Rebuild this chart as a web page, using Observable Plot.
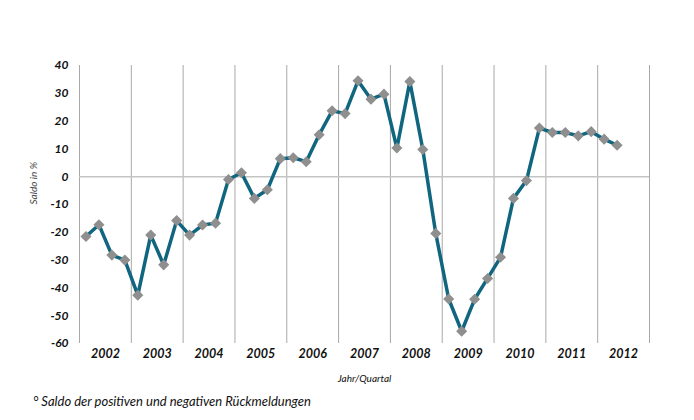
<!DOCTYPE html>
<html>
<head>
<meta charset="utf-8">
<script src="https://cdn.jsdelivr.net/npm/d3@7"></script>
<script src="https://cdn.jsdelivr.net/npm/@observablehq/plot@0.6"></script>
<style>
  body { margin: 0; background: #fff; font-family: Lato, "Open Sans", sans-serif; }
  #chart { position: relative; width: 694px; height: 420px; }
  #note { position: absolute; left: 33px; top: 393px; font-style: italic; font-size: 13px; color: #111; white-space: nowrap; }
</style>
</head>
<body>
<div id="chart"><div id="note">° Saldo der positiven und negativen Rückmeldungen</div></div>
<script>
const years = ["2002","2003","2004","2005","2006","2007","2008","2009","2010","2011","2012"];
const quartersPerYear = 4;
const saldo = [-21.5,-17.3,-28.2,-30,-42.6,-21,-31.7,-15.8,-21,-17.4,-16.7,-1,1.4,-7.8,-4.7,6.5,6.8,5.4,15.1,23.7,22.7,34.5,27.9,29.7,10.3,34.2,9.8,-20.4,-44,-55.6,-44.1,-36.6,-29,-7.8,-1.4,17.5,15.9,15.9,14.7,16.2,13.5,11.3];
const yTicks = [40,30,20,10,0,-10,-20,-30,-40,-50,-60];

const data = saldo.map((v, i) => ({i, v}));
const yearCenters = years.map((y, k) => ({x: k * quartersPerYear + 1.5, label: y}));
const boundaries = d3.range(years.length + 1).map(k => k * quartersPerYear - 0.5);

const plot = Plot.plot({
  width: 694,
  height: 390,
  marginLeft: 79,
  marginRight: 45,
  marginTop: 65,
  marginBottom: 47,
  style: {fontFamily: "Lato, 'Open Sans', sans-serif", background: "#fff", color: "#111"},
  x: {domain: [-0.5, years.length * quartersPerYear - 0.5], axis: null},
  y: {domain: [-60, 40], axis: null},
  marks: [
    Plot.ruleX(boundaries, {x: d => d, y1: -60, y2: 40, stroke: "#a8a8a8", strokeWidth: 1}),
    Plot.ruleY([0], {stroke: "#c4c4c4", strokeWidth: 1.5}),
    Plot.text(yTicks, {y: d => d, text: d => String(d), frameAnchor: "left", dx: -11, textAnchor: "end", fontSize: 12, fontWeight: "bold", fontStyle: "italic", fill: "#111"}),
    Plot.text(yearCenters, {x: "x", text: "label", frameAnchor: "bottom", dy: 14, fontSize: 12.5, fontWeight: "bold", fontStyle: "italic", fill: "#111"}),
    Plot.text(["Saldo in %"], {frameAnchor: "left", dx: -46, rotate: -90, fontSize: 10, fontStyle: "italic", fill: "#444"}),
    Plot.text(["Jahr/Quartal"], {frameAnchor: "bottom", dy: 38, fontSize: 10, fontStyle: "italic", fill: "#111"}),
    Plot.line(data, {x: "i", y: "v", stroke: "#10657f", strokeWidth: 3.5, strokeLinejoin: "round"}),
    Plot.dot(data, {x: "i", y: "v", symbol: "diamond2", r: 5, fill: "#8f8f8f", stroke: "none"})
  ]
});
document.getElementById("chart").prepend(plot);
</script>
</body>
</html>
